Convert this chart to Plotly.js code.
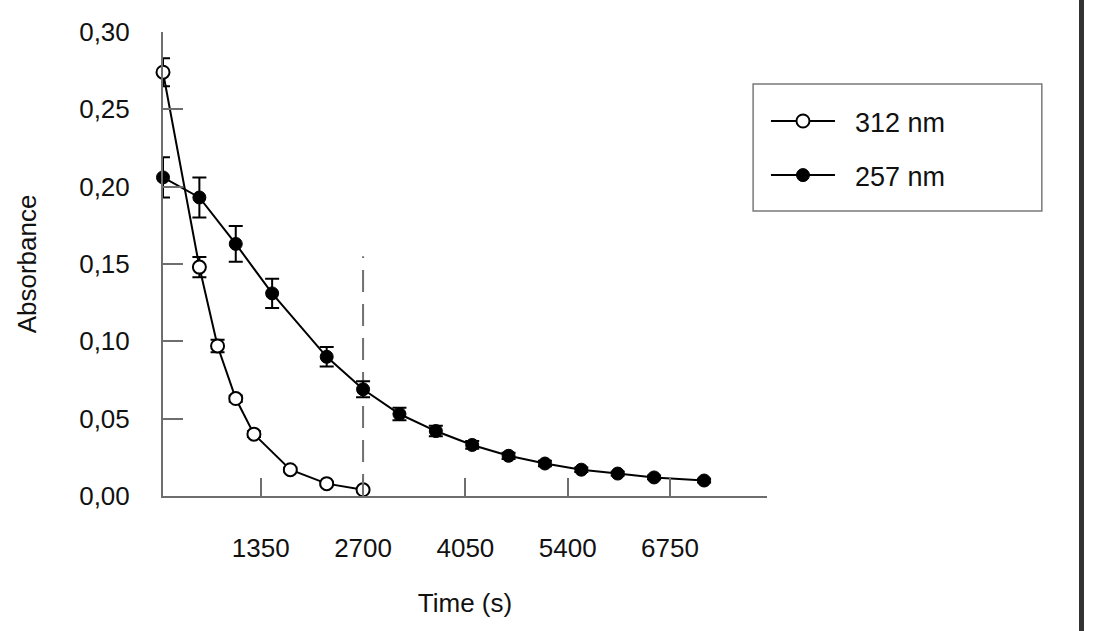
<!DOCTYPE html>
<html>
<head>
<meta charset="utf-8">
<script src="https://cdn.plot.ly/plotly-3.0.1.min.js"></script>
<style>
html,body{margin:0;padding:0;background:#fff;}
#chart{width:1093px;height:631px;position:relative;}
#bar{position:absolute;left:1079px;top:0;width:5px;height:631px;background:#333;}
</style>
</head>
<body>
<div id="chart"></div>
<div id="bar"></div>
<script>
// Data
const time312 = [60, 540, 780, 1020, 1260, 1740, 2220, 2700];
const abs312  = [0.274, 0.148, 0.097, 0.063, 0.040, 0.017, 0.008, 0.004];
const err312  = [0.009, 0.0065, 0.004, 0.002, 0.0018, 0.0012, 0.001, 0.001];

const time257 = [60, 540, 1020, 1500, 2220, 2700, 3180, 3660, 4140, 4620, 5100, 5580, 6060, 6540, 7200];
const abs257  = [0.206, 0.193, 0.163, 0.131, 0.090, 0.069, 0.053, 0.042, 0.033, 0.026, 0.021, 0.017, 0.0145, 0.012, 0.010];
const err257  = [0.013, 0.013, 0.0115, 0.0095, 0.0063, 0.0052, 0.004, 0.0034, 0.0025, 0.002, 0.0018, 0.0015, 0.0012, 0.0012, 0.0012];

const cutTime = [2700, 2700];
const cutAbs  = [0, 0.155];

const seriesNames = ['312 nm', '257 nm'];
const xTickVals = [1350, 2700, 4050, 5400, 6750];
const xTickText = ['1350', '2700', '4050', '5400', '6750'];
const yTickVals = [0, 0.05, 0.10, 0.15, 0.20, 0.25, 0.30];
const yTickText = ['0,00', '0,05', '0,10', '0,15', '0,20', '0,25', '0,30'];

const FONT = 'Liberation Sans, Arial, sans-serif';
const FS = 26;
const PAD = '\u00a0\u00a0';

const traces = [
  {
    x: cutTime, y: cutAbs, mode: 'lines', showlegend: false, hoverinfo: 'skip',
    line: {color: '#707070', width: 2, dash: '22px,12px'}
  },
  {
    x: time312, y: abs312, name: PAD + seriesNames[0], mode: 'lines+markers', legendgroup: 'a',
    cliponaxis: false,
    line: {color: '#000', width: 2},
    marker: {symbol: 'circle', size: 13, color: '#fff', line: {color: '#000', width: 2}},
    error_y: {type: 'data', array: err312, visible: true, color: '#000', thickness: 2, width: 7}
  },
  {
    x: time257, y: abs257, name: PAD + seriesNames[1], mode: 'lines+markers', legendgroup: 'b',
    cliponaxis: false,
    line: {color: '#000', width: 2},
    marker: {symbol: 'circle', size: 13, color: '#000', line: {color: '#000', width: 1}},
    error_y: {type: 'data', array: err257, visible: true, color: '#000', thickness: 2, width: 7}
  }
];

const layout = {
  width: 1093, height: 631,
  paper_bgcolor: '#fff', plot_bgcolor: '#fff',
  margin: {l: 163, r: 326, t: 32, b: 135},
  font: {family: FONT, size: FS, color: '#111'},
  showlegend: true,
  legend: {
    x: 0.9983, xanchor: 'left', y: 0.86, yanchor: 'top',
    bgcolor: 'rgba(0,0,0,0)', borderwidth: 0,
    font: {family: FONT, size: 27, color: '#111'},
    itemwidth: 64, tracegroupgap: 16, traceorder: 'grouped'
  },
  xaxis: {
    range: [60, 8030], showgrid: false, zeroline: false,
    showline: true, linecolor: '#6e6e6e', linewidth: 2,
    ticks: 'inside', ticklen: 18, tickwidth: 2, tickcolor: '#6e6e6e',
    tickvals: xTickVals, ticktext: xTickText, ticklabelstandoff: 28,
    tickfont: {family: FONT, size: FS, color: '#111'},
    title: {text: 'Time (s)', font: {family: FONT, size: FS, color: '#111'}, standoff: 32}
  },
  yaxis: {
    range: [0, 0.30], showgrid: false, zeroline: false,
    showline: true, linecolor: '#6e6e6e', linewidth: 2,
    ticks: 'inside', ticklen: 20, tickwidth: 2, tickcolor: '#6e6e6e',
    tickvals: yTickVals, ticktext: yTickText, ticklabelstandoff: 26,
    tickfont: {family: FONT, size: FS, color: '#111'},
    title: {text: 'Absorbance', font: {family: FONT, size: FS, color: '#111'}, standoff: 35}
  },
  shapes: [
    {type: 'rect', xref: 'paper', yref: 'paper', x0: 0.977, x1: 1.455, y0: 0.614, y1: 0.888,
     line: {color: '#7a7a7a', width: 1.5}, fillcolor: 'rgba(0,0,0,0)', layer: 'below'}
  ]
};

Plotly.newPlot('chart', traces, layout, {displayModeBar: false, staticPlot: true});
</script>
</body>
</html>
